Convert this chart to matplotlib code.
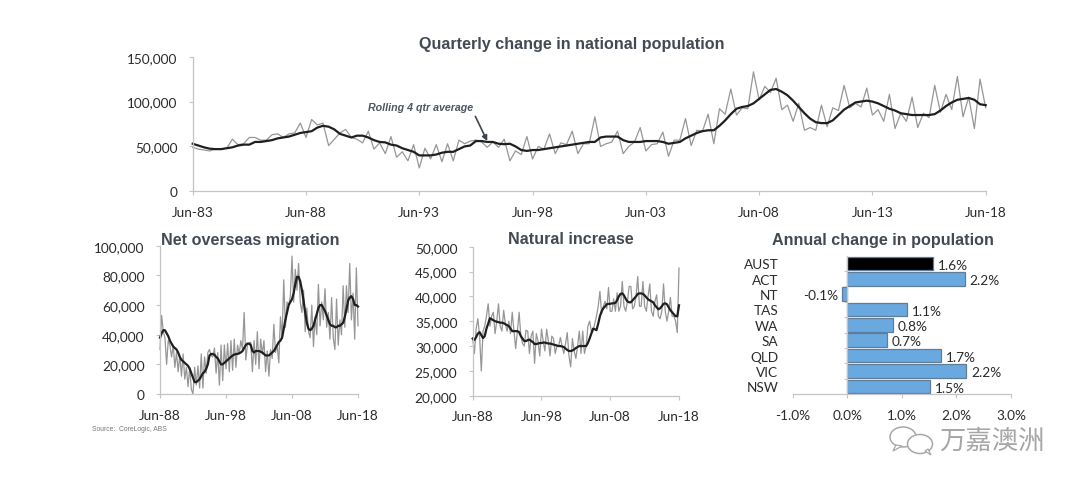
import numpy as np
import matplotlib
matplotlib.use('Agg')
import matplotlib.pyplot as plt
from matplotlib.patches import Ellipse, Polygon

W, H = 1080, 489

# quarterly change in national population, Jun-83 to Jun-18 ('000)
national_raw = [49, 47, 46, 45, 47, 47, 48, 58, 52, 53,
                60, 60, 57, 57, 63, 64, 60, 64, 65, 76,
                60, 80, 74, 76, 51, 58, 65, 69, 60, 58,
                54, 67, 47, 54, 42, 61, 38, 44, 34, 52,
                26, 48, 36, 52, 33, 53, 34, 57, 53, 56,
                57, 55, 49, 55, 49, 58, 34, 45, 41, 61,
                36, 50, 47, 64, 42, 54, 52, 67, 42, 53,
                53, 83, 50, 53, 55, 67, 42, 50, 55, 71,
                45, 52, 53, 66, 39, 57, 57, 81, 51, 68,
                67, 86, 53, 92, 86, 114, 85, 93, 92, 133,
                102, 117, 110, 126, 91, 96, 78, 98, 68, 71,
                68, 96, 72, 93, 90, 118, 93, 98, 94, 115,
                85, 91, 78, 108, 70, 87, 78, 105, 71, 87,
                82, 118, 88, 108, 91, 128, 83, 105, 70, 125,
                93]
national_avg = [53, 51, 49, 47.5, 47, 47, 48, 49, 51, 52,
                52, 55, 55, 56, 57, 59, 60, 61, 63, 65,
                66, 67, 71, 73, 72, 69, 64, 62, 60, 62,
                62, 60, 57, 55, 54.5, 52, 51, 48, 46, 44,
                40, 40, 40, 41, 43, 44, 44, 47, 50, 51,
                56, 56, 55, 55, 53, 52.5, 53, 50, 46, 45,
                46, 46, 47, 48, 49, 50, 51, 52, 53, 54,
                55, 55, 60, 61, 61, 61, 57, 55, 55, 55,
                56, 56, 56, 55, 53, 54, 55, 59, 62, 65,
                67, 68, 68, 73, 79, 86, 92, 94, 95, 98,
                103, 108, 113, 114, 111, 107, 101, 94, 87, 81,
                77, 76, 76, 79, 85, 91, 95, 99, 100, 101,
                100, 98, 95, 92, 90, 87, 86, 85, 85, 85,
                85, 86, 90, 95, 99, 102, 103, 104, 102, 97,
                96]
national_ticks = ['Jun-83', 'Jun-88', 'Jun-93', 'Jun-98', 'Jun-03', 'Jun-08', 'Jun-13', 'Jun-18']

# net overseas migration, Jun-88 to Jun-18 ('000)
nom_raw = [30, 53, 42, 38, 20, 36, 33, 25, 33, 18,
           28, 15, 26, 12, 27, 10, 18, 5, 18, 3,
           0, 18, 6, 19, 4, 27, 4, 25, 14, 28,
           30, 26, 25, 31, 14, 28, 6, 33, 9, 33,
           17, 34, 15, 36, 16, 37, 18, 33, 27, 36,
           30, 55, 23, 33, 34, 35, 15, 36, 20, 42,
           17, 37, 27, 36, 15, 29, 12, 30, 24, 47,
           28, 33, 21, 52, 38, 77, 45, 62, 60, 66,
           93, 62, 84, 70, 88, 62, 55, 70, 42, 58,
           42, 38, 60, 32, 52, 40, 74, 46, 62, 50,
           71, 45, 55, 37, 65, 38, 30, 64, 33, 50,
           40, 73, 45, 73, 55, 88, 50, 68, 37, 85,
           46]
nom_avg = [38, 41, 43, 43, 41, 39, 36, 34, 32, 31,
           30, 28, 25, 23, 22, 21, 20, 19, 17, 14,
           11, 8, 8, 9, 10, 12, 14, 15, 17, 20,
           26, 27, 27, 26.5, 25, 24, 22, 20, 20, 21,
           22, 23, 24, 25, 26, 26.5, 27, 27, 27.5, 28,
           29, 31, 33, 34, 34, 33, 29, 28, 29, 29,
           29, 28.5, 28, 27, 26, 26, 26, 27, 28, 29,
           31, 33, 35, 36, 38, 44, 50, 55, 60, 62,
           64, 68, 74, 79, 79, 76, 70, 63, 55, 48,
           44, 43, 44, 46, 50, 54, 58, 60, 60, 58,
           56, 53, 50, 47, 46, 46, 45, 45, 46, 46,
           47, 48, 52, 57, 63, 65, 66, 64, 60, 60,
           59]

# natural increase, Jun-88 to Jun-18 ('000)
natural_raw = [31.5, 28.5, 33.5, 35.5, 32, 25, 33, 34, 36, 38.5,
               34, 36, 36.8, 32.5, 35, 38.5, 34, 33, 37.2, 34.5,
               33, 35, 32.5, 36.8, 33, 29.5, 33, 36.8, 32, 30.5,
               30, 33.2, 33, 28.5, 32, 33, 26.5, 32.5, 31, 28,
               33.4, 31, 29, 33.4, 31, 28, 32, 31.5, 28.5, 30,
               30, 31.7, 30, 28.5, 30.5, 32.7, 28, 25.8, 31.5, 29,
               27.5, 30, 33, 28.5, 33, 28.5, 30, 34, 35, 33,
               33, 34.5, 36, 38, 41, 36.5, 38, 39, 37.5, 41.8,
               37, 37, 39.5, 37, 40.7, 37, 38, 43, 38, 37,
               39, 42, 42, 37.5, 38, 40, 44, 38, 38, 43,
               38, 37, 40, 42.5, 37, 36, 39, 40.3, 36, 35.5,
               37, 42.5, 37, 35, 37, 39.8, 36, 36, 35, 32.7,
               45.7]
natural_avg = [31.5, 31.2, 31.8, 32.5, 32.8, 32.2, 31.6, 32, 33.5, 34.5,
               35.6, 35.4, 35.2, 35, 34.9, 34.8, 34.7, 34.7, 34.6, 34.4,
               34.2, 34, 33.5, 33, 33, 33, 33, 32.8, 32, 31.5,
               31, 31, 31.2, 31.3, 31, 30.8, 30.4, 30.4, 30.5, 30.6,
               30.6, 30.7, 30.7, 30.6, 30.5, 30.5, 30.4, 30.3, 30.2, 30.1,
               30, 30, 29.9, 29.8, 29.5, 29.2, 29, 29, 29.1, 29.3,
               29.6, 29.8, 30, 30, 30, 30, 30, 30.6, 31.5, 32.5,
               33.5, 33.4, 33.2, 34.5, 36, 37, 37.6, 38, 38.4, 38.5,
               38.5, 38.6, 38.6, 38.7, 39.2, 40, 40.5, 40.6, 40.2, 39.5,
               39, 38.8, 38.8, 39.2, 39.6, 40, 40.5, 40.6, 40.6, 40.5,
               40.2, 39.8, 39.4, 39.2, 39, 38.8, 38.2, 37.8, 37.4, 37.6,
               38, 38.5, 38.6, 38.4, 37.8, 37.2, 36.8, 36.4, 36, 36,
               38.2]
bottom_ticks = ['Jun-88', 'Jun-98', 'Jun-08', 'Jun-18']

# annual change by state, bottom to top
states = ['NSW', 'VIC', 'QLD', 'SA', 'WA', 'TAS', 'NT', 'ACT', 'AUST']
state_change = [1.52, 2.18, 1.72, 0.72, 0.84, 1.09, -0.1, 2.15, 1.57]
state_labels = ['1.5%', '2.2%', '1.7%', '0.7%', '0.8%', '1.1%', '-0.1%', '2.2%', '1.6%']

TICK_FONT = ['Lato', 'DejaVu Sans']
TICK_SIZE = 9.8
TITLE_COL = '#434a54'
TEXT_COL = '#2b2b2b'
AXIS_COL = '#c4c4c4'
RAW_COL = '#969696'
AVG_COL = '#1f1f1f'


def make_axes(fig, left, right, top, bottom):
    """Axes from pixel edges of the picture"""
    ax = fig.add_axes([left / W, 1 - bottom / H, (right - left) / W, (bottom - top) / H])
    for side in ['top', 'right']:
        ax.spines[side].set_visible(False)
    for side in ['left', 'bottom']:
        ax.spines[side].set_color(AXIS_COL)
        ax.spines[side].set_linewidth(0.9)
    ax.tick_params(color=AXIS_COL, length=3, width=0.8, labelsize=TICK_SIZE,
                   labelcolor=TEXT_COL)
    ax.tick_params(axis='x', pad=7.5)
    ax.tick_params(axis='y', pad=8)
    return ax


def set_tick_font(ax):
    for lab in ax.get_xticklabels() + ax.get_yticklabels():
        lab.set_family(TICK_FONT)


def plot_series(ax, raw, avg, ticks, yticks, step, raw_lw=0.9, avg_lw=1.6):
    x = np.arange(len(raw))
    ax.plot(x, np.array(raw) * 1000, color=RAW_COL, lw=raw_lw, clip_on=False)
    ax.plot(x, np.array(avg) * 1000, color=AVG_COL, lw=avg_lw, clip_on=False)
    ax.set_xlim(0, len(raw) - 1)
    ax.set_ylim(yticks[0], yticks[-1])
    ax.set_xticks(np.arange(len(ticks)) * step)
    ax.set_xticklabels(ticks)
    ax.set_yticks(yticks)
    ax.set_yticklabels(['{:,}'.format(v) for v in yticks])
    set_tick_font(ax)


def title(fig, x, y, s):
    fig.text(x / W, 1 - y / H, s, ha='center', va='center', fontsize=11.6,
             fontweight='bold', color=TITLE_COL, family='Liberation Sans')


fig = plt.figure(figsize=(W / 100, H / 100), dpi=100, facecolor='white')

ax1 = make_axes(fig, 192.7, 985.7, 57.7, 192.3)
plot_series(ax1, national_raw, national_avg, national_ticks,
            [0, 50000, 100000, 150000], 20)
ax1.annotate('Rolling 4 qtr average', xy=(52, 56000), xytext=(31, 93500),
             fontsize=7.7, fontweight='bold', fontstyle='italic', color='#4d5560',
             family='Liberation Sans', va='center',
             arrowprops=dict(arrowstyle='-|>', color='#3d4550', lw=1.2,
                             relpos=(1, 0), shrinkA=1, shrinkB=0))
title(fig, 572, 44, 'Quarterly change in national population')

ax2 = make_axes(fig, 160, 358, 246.7, 395)
plot_series(ax2, nom_raw, nom_avg, bottom_ticks,
            [0, 20000, 40000, 60000, 80000, 100000], 40)
title(fig, 250, 240, 'Net overseas migration')

ax3 = make_axes(fig, 472.7, 679, 247.7, 396.7)
plot_series(ax3, natural_raw, natural_avg, bottom_ticks,
            [20000, 25000, 30000, 35000, 40000, 45000, 50000], 40)
title(fig, 571, 240, 'Natural increase')

ax4 = make_axes(fig, 792.7, 1011, 256.7, 395)
pos = np.arange(len(states))
colors = ['#6aa9e0'] * (len(states) - 1) + ['black']
ax4.barh(pos, state_change, height=0.88, color=colors, edgecolor='#5f7d99', linewidth=0.9)
for p, v, s in zip(pos, state_change, state_labels):
    if v < 0:
        ax4.text(v - 0.07, p - 0.08, s, ha='right', va='center', fontsize=TICK_SIZE,
                 color=TEXT_COL, family=TICK_FONT)
    else:
        ax4.text(v + 0.09, p - 0.08, s, ha='left', va='center', fontsize=TICK_SIZE,
                 color=TEXT_COL, family=TICK_FONT)
ax4.set_xlim(-1, 3)
ax4.set_ylim(-0.5, len(states) - 0.5)
ax4.set_xticks([-1, 0, 1, 2, 3])
ax4.set_xticklabels(['-1.0%', '0.0%', '1.0%', '2.0%', '3.0%'])
ax4.set_yticks(pos)
ax4.set_yticklabels(states)
ax4.set_yticks(pos[:-1] + 0.5, minor=True)
ax4.spines['left'].set_position(('data', 0))
ax4.spines['left'].set_zorder(5)
ax4.tick_params(axis='y', which='major', length=0, pad=49.5)
ax4.tick_params(axis='y', which='minor', length=2.5, width=0.8, color=AXIS_COL)
set_tick_font(ax4)
title(fig, 883, 240, 'Annual change in population')

fig.text(92 / W, 1 - 430 / H, 'Source:  CoreLogic, ABS', fontsize=4.9, color='#777777',
         va='center', family='Liberation Sans')

# watermark in the corner
WM = '#a8a8a8'
overlay = fig.add_axes([0, 0, 1, 1], facecolor='none')
overlay.set_xlim(0, W)
overlay.set_ylim(H, 0)
overlay.axis('off')
overlay.add_patch(Ellipse((903, 438), 26, 20, fill=False, ec=WM, lw=1.1))
overlay.add_patch(Polygon([(896, 446), (893, 452), (902, 447)], closed=True, fc='white', ec=WM, lw=0.9))
overlay.add_patch(Ellipse((920, 445), 25, 19, fc='white', ec=WM, lw=1.1))
overlay.add_patch(Polygon([(925, 452), (931, 456), (928, 450)], closed=True, fc='white', ec=WM, lw=0.9))
overlay.text(992, 441, '万嘉澳洲', ha='center', va='center', fontsize=19, color='#a6a6a6',
             family=['Noto Sans CJK SC', 'DejaVu Sans'], fontstyle='italic')

fig.savefig('out.png', dpi=100, facecolor='white')
